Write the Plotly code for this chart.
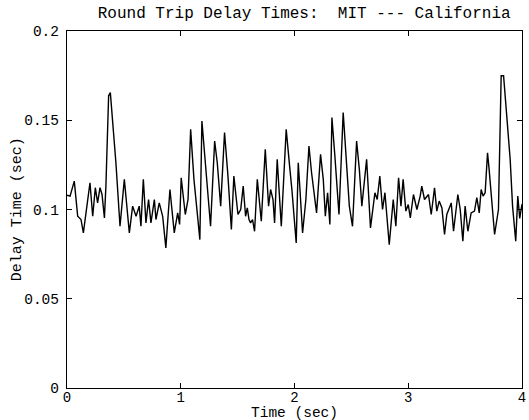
import plotly.graph_objects as go

time_sec = [0.0, 0.027, 0.064, 0.094, 0.123, 0.144, 0.167, 0.202, 0.226, 0.249, 0.269, 0.290, 0.308, 0.329,
            0.342, 0.366, 0.381, 0.402, 0.430, 0.466, 0.504, 0.548, 0.577, 0.607, 0.635, 0.650, 0.671, 0.694,
            0.717, 0.738, 0.768, 0.782, 0.811, 0.841, 0.869, 0.905, 0.943, 0.973, 0.990, 1.004, 1.040, 1.064,
            1.087, 1.116, 1.146, 1.168, 1.186, 1.210, 1.238, 1.262, 1.298, 1.321, 1.351, 1.385, 1.415, 1.445,
            1.467, 1.503, 1.527, 1.549, 1.570, 1.585, 1.600, 1.614, 1.631, 1.649, 1.673, 1.708, 1.743, 1.772,
            1.790, 1.811, 1.825, 1.848, 1.884, 1.927, 1.957, 1.977, 2.015, 2.033, 2.048, 2.071, 2.100, 2.127,
            2.150, 2.194, 2.229, 2.253, 2.271, 2.291, 2.311, 2.329, 2.355, 2.391, 2.428, 2.452, 2.482, 2.510,
            2.546, 2.570, 2.592, 2.634, 2.668, 2.707, 2.727, 2.750, 2.774, 2.795, 2.833, 2.868, 2.891, 2.915,
            2.936, 2.955, 2.979, 3.000, 3.018, 3.046, 3.076, 3.105, 3.119, 3.143, 3.164, 3.178, 3.202, 3.231,
            3.251, 3.272, 3.296, 3.319, 3.339, 3.378, 3.398, 3.436, 3.457, 3.480, 3.500, 3.524, 3.553, 3.582,
            3.603, 3.624, 3.641, 3.658, 3.676, 3.697, 3.711, 3.735, 3.759, 3.793, 3.817, 3.838, 3.866, 3.896,
            3.917, 3.945, 3.963, 3.980, 4.000]
delay_sec = [0.1080, 0.1075, 0.1159, 0.0962, 0.0944, 0.0869, 0.0981, 0.1150, 0.0962, 0.1122, 0.1037, 0.1122,
             0.1084, 0.0953, 0.1131, 0.1637, 0.1655, 0.1487, 0.1262, 0.0906, 0.1169, 0.0869, 0.1019, 0.0962,
             0.1019, 0.0906, 0.1169, 0.0925, 0.1056, 0.0925, 0.1056, 0.0944, 0.1037, 0.0962, 0.0785, 0.1112,
             0.0869, 0.0981, 0.0916, 0.1178, 0.0972, 0.1056, 0.1449, 0.1169, 0.0962, 0.0831, 0.1496, 0.1300,
             0.1112, 0.0906, 0.1384, 0.1262, 0.1019, 0.1431, 0.1187, 0.0888, 0.1187, 0.0972, 0.1000, 0.1131,
             0.0962, 0.1009, 0.0944, 0.0925, 0.0944, 0.0878, 0.1169, 0.0934, 0.1337, 0.1019, 0.1112, 0.1056,
             0.0925, 0.1281, 0.0906, 0.1449, 0.1243, 0.1112, 0.0813, 0.1262, 0.1112, 0.0869, 0.1056, 0.1356,
             0.1206, 0.0981, 0.1309, 0.1169, 0.0962, 0.1094, 0.0916, 0.1515, 0.1300, 0.0972, 0.1543, 0.1281,
             0.1019, 0.0906, 0.1384, 0.1225, 0.1019, 0.1281, 0.0897, 0.1094, 0.1056, 0.1187, 0.1000, 0.1094,
             0.0803, 0.1056, 0.0906, 0.1178, 0.1019, 0.1169, 0.0991, 0.1028, 0.0953, 0.1084, 0.1000, 0.1075,
             0.1131, 0.1056, 0.1075, 0.1084, 0.0972, 0.1122, 0.0991, 0.1047, 0.1009, 0.0860, 0.0972, 0.1037,
             0.0878, 0.1084, 0.1000, 0.0822, 0.1019, 0.0878, 0.0981, 0.0991, 0.1066, 0.0981, 0.1112, 0.1075,
             0.1094, 0.1318, 0.1225, 0.1019, 0.0860, 0.1000, 0.1749, 0.1749, 0.1506, 0.1281, 0.1019, 0.0822,
             0.1075, 0.0950, 0.1030]

x_ticks = [0, 1, 2, 3, 4]
x_tick_labels = ["0", "1", "2", "3", "4"]
y_ticks = [0, 0.05, 0.1, 0.15, 0.2]
y_tick_labels = ["0", "0.05", "0.1", "0.15", "0.2"]

FONT = "Courier New, Liberation Mono, monospace"

fig = go.Figure()
fig.add_trace(go.Scatter(x=time_sec, y=delay_sec, mode="lines",
                         line=dict(color="black", width=1.4), showlegend=False))

fig.update_layout(
    width=529, height=420,
    paper_bgcolor="white", plot_bgcolor="white",
    margin=dict(l=67, r=7, t=31, b=32, autoexpand=False),
    title=dict(text="Round Trip Delay Times:  MIT --- California",
               font=dict(family=FONT, size=16, color="black"),
               x=0.575, xanchor="center", y=0.985, yanchor="top"),
    font=dict(family=FONT, color="black"),
    annotations=[
        dict(text="Time (sec)", xref="paper", yref="paper", x=0.5, y=-0.069,
             xanchor="center", yanchor="middle", showarrow=False,
             font=dict(family=FONT, size=14.5, color="black")),
        dict(text="Delay Time (sec)", xref="paper", yref="paper", x=-0.108, y=0.5,
             xanchor="center", yanchor="middle", showarrow=False, textangle=-90,
             font=dict(family=FONT, size=15, color="black")),
    ],
)
fig.update_xaxes(range=[0, 4], tickvals=x_ticks, ticktext=x_tick_labels,
                 ticks="inside", ticklen=5, tickcolor="black", mirror="ticks", automargin=False,
                 showline=True, linecolor="black", linewidth=1.2, showgrid=False, zeroline=False,
                 ticklabelstandoff=-4,
                 tickfont=dict(family=FONT, size=14, color="black"))
fig.update_yaxes(range=[0, 0.2], tickvals=y_ticks, ticktext=y_tick_labels,
                 ticks="inside", ticklen=5, tickcolor="black", mirror="ticks", automargin=False,
                 showline=True, linecolor="black", linewidth=1.2, showgrid=False, zeroline=False,
                 ticklabelstandoff=4,
                 tickfont=dict(family=FONT, size=14.5, color="black"))

fig.write_html("out.html", config={"displayModeBar": False},
               post_script="document.body.style.margin='0';document.body.style.padding='0';")
